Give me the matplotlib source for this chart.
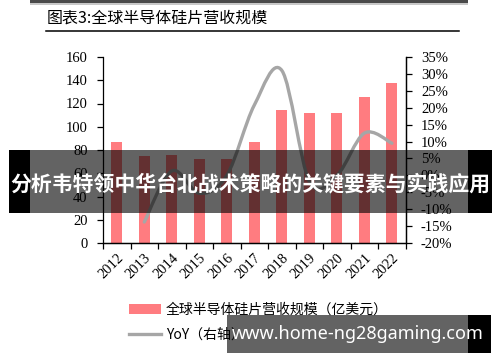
import matplotlib.pyplot as plt
import numpy as np
from matplotlib.path import Path
from matplotlib.patches import PathPatch, Rectangle
from matplotlib.lines import Line2D

# ---------- dados ----------
anos = ['2012', '2013', '2014', '2015', '2016', '2017', '2018', '2019', '2020', '2021', '2022']
receita = [87, 75, 76, 72, 72, 87, 114, 112, 112, 126, 138]          # 亿美元
yoy = [-13.8, 1.3, -5.3, 0.0, 20.8, 31.0, -1.8, 0.0, 12.5, 9.5]    # % (2013-2022)

titulo = '图表3:全球半导体硅片营收规模'
leg_barra = '全球半导体硅片营收规模（亿美元）'
leg_linha = 'YoY（右轴）'
faixa = '分析韦特领中华台北战术策略的关键要素与实践应用'
marca = 'www.home-ng28gaming.com'

COR_BARRA = '#FF7C80'
COR_LINHA = '#A6A6A6'
W, H = 500, 362

CJK = ['Noto Sans CJK SC', 'DejaVu Sans']
SERIF = ['Liberation Serif', 'Noto Sans CJK SC']


def px(x, y):
    '''pixel (origem no topo) -> fração da figura'''
    return x / W, 1 - y / H


def caminho_suave(xs, ys):
    '''curva suave (estilo Excel) passando pelos pontos'''
    pts = np.column_stack([xs, ys]).astype(float)
    n = len(pts)
    verts = [pts[0]]
    codes = [Path.MOVETO]
    for i in range(n - 1):
        p0 = pts[i - 1] if i > 0 else pts[i]
        p1, p2 = pts[i], pts[i + 1]
        p3 = pts[i + 2] if i + 2 < n else pts[i + 1]
        verts += [p1 + (p2 - p0) / 6, p2 - (p3 - p1) / 6, p2]
        codes += [Path.CURVE4] * 3
    return Path(verts, codes)


def main():
    fig = plt.figure(figsize=(W / 100, H / 100), dpi=100)

    x0, y0 = px(103, 243)
    x1, y1 = px(405.7, 57)
    ax = fig.add_axes([x0, y0, x1 - x0, y1 - y0])
    ax2 = ax.twinx()

    x = np.arange(len(anos))
    barras = ax.bar(x, receita, width=0.4, color=COR_BARRA, zorder=2)

    ax.set_xlim(-0.5, len(anos) - 0.5)
    ax.set_ylim(0, 160)
    ax.set_yticks(np.arange(0, 161, 20))
    ax2.set_ylim(-20, 35)
    ax2.set_yticks(np.arange(-20, 36, 5))
    ax2.set_yticklabels([f'{v}%' for v in range(-20, 36, 5)])

    # ticks do eixo x nas fronteiras, rótulos no centro
    ax.set_xticks(np.arange(-0.5, len(anos), 1))
    ax.set_xticklabels([])
    ax.set_xticks(x, minor=True)
    ax.set_xticklabels(anos, minor=True, rotation=45, ha='right',
                       rotation_mode='anchor', family=SERIF, fontsize=10.5)
    ax.tick_params(axis='x', which='minor', length=0, pad=6)
    ax.tick_params(axis='x', which='major', length=4, width=0.9, direction='out')
    ax.tick_params(axis='y', length=4, width=0.9, pad=7)
    ax2.tick_params(axis='y', length=4, width=0.9, pad=7)
    for t in ax.get_yticklabels() + ax2.get_yticklabels():
        t.set_family(SERIF)
        t.set_fontsize(10.5)

    for a in (ax, ax2):
        a.spines['top'].set_visible(False)
        for s in a.spines.values():
            s.set_linewidth(0.9)
    ax2.spines['left'].set_visible(False)

    linha = PathPatch(caminho_suave(x[1:], yoy), transform=ax2.transData,
                      facecolor='none', edgecolor=COR_LINHA, lw=2.4,
                      capstyle='round', joinstyle='round', zorder=3)
    ax2.add_patch(linha)

    # legenda
    proxy = Line2D([], [], color=COR_LINHA, lw=2.4)
    lx, ly = px(122, 296)
    fig.legend([barras, proxy], [leg_barra, leg_linha], loc='upper left',
               bbox_to_anchor=(lx, ly), frameon=False, prop={'family': CJK, 'size': 10},
               handlelength=2.3, handletextpad=0.35, labelspacing=0.75, borderpad=0)

    # título
    tx, ty = px(47, 18)
    fig.text(tx, ty, titulo, family=CJK, fontsize=11.5, va='center', ha='left')
    a, b = px(46, 30.7)
    c, _ = px(459, 30.7)
    fig.add_artist(Line2D([a, c], [b, b], color='black', lw=1.1))
    # faixa cinza no topo
    fx, fy = px(30, 3)
    fig.add_artist(Rectangle((fx, fy), 438 / W, 3 / H, color='#4a4a4a', lw=0, zorder=5))
    fx, fy = px(30, 5)
    fig.add_artist(Rectangle((fx, fy), 438 / W, 2 / H, color='#c8c8c8', lw=0, zorder=5))

    # banner sobreposto
    bx, by = px(9, 213)
    fig.add_artist(Rectangle((bx, by), 21 / W, 63 / H, color='black', lw=0, zorder=10))
    bx, by = px(468, 213)
    fig.add_artist(Rectangle((bx, by), 24 / W, 63 / H, color='black', lw=0, zorder=10))
    bx, by = px(30, 213)
    fig.add_artist(Rectangle((bx, by), 438 / W, 63 / H, color='black', alpha=0.61, lw=0, zorder=10))
    cx, cy = px(250.5, 184)
    fig.text(cx, cy, faixa, family=CJK, fontsize=15, weight='bold', color='white',
             ha='center', va='center', zorder=11)

    # marca d'água
    bx, by = px(227, 353)
    fig.add_artist(Rectangle((bx, by), 241 / W, 38 / H, color='black', alpha=0.61, lw=0, zorder=10))
    bx, by = px(468, 353)
    fig.add_artist(Rectangle((bx, by), 23 / W, 38 / H, color='black', lw=0, zorder=10))
    cx, cy = px(358, 334)
    fig.text(cx, cy, marca, family=['Noto Sans', 'DejaVu Sans'], fontsize=13, weight='bold',
             color='white', ha='center', va='center', zorder=11)

    fig.savefig('out.png', dpi=100)


if __name__ == '__main__':
    main()
